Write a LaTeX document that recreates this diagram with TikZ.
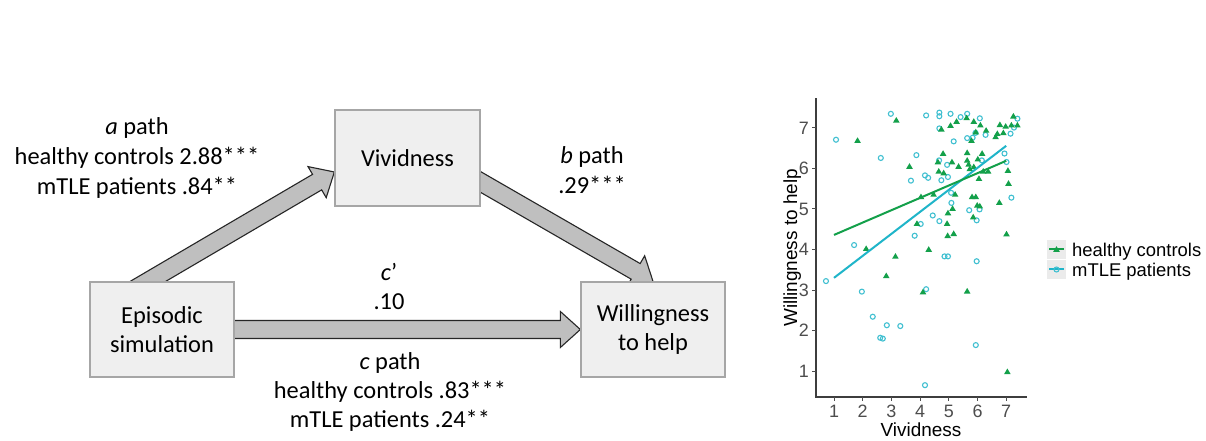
\documentclass[tikz,border=0pt]{standalone}
\usepackage{fontspec}
\setmainfont{Carlito}
\newfontfamily\plotfont{Liberation Sans}
\usetikzlibrary{calc}
\pgfdeclarelayer{paper}
\pgfdeclarelayer{arrowlayer}
\pgfsetlayers{paper,arrowlayer,main}
\definecolor{boxfill}{HTML}{EFEFEF}
\definecolor{boxline}{HTML}{A6A6A6}
\definecolor{arrfill}{HTML}{BFBFBF}
\definecolor{arrline}{HTML}{262626}
\definecolor{hcgreen}{HTML}{13A04A}
\definecolor{mtcyan}{HTML}{1FB5C9}
\definecolor{axisgray}{HTML}{4D4D4D}
\definecolor{keybg}{HTML}{EBEBEB}
\newcommand\blockarrow[2]{%
  \path ($(#1)!-15bp!(#2)$) coordinate (st) ($(#2)!20bp!(#1)$) coordinate (hb);
  \draw[arrowshape] ($(st)!9bp!90:(#2)$) -- ($(hb)!9bp!90:(#2)$) -- ($(hb)!18bp!90:(#2)$) -- (#2)
    -- ($(hb)!18bp!-90:(#2)$) -- ($(hb)!9bp!-90:(#2)$) -- ($(st)!9bp!-90:(#2)$) -- cycle;}
\begin{document}
\begin{tikzpicture}[x=1bp,y=-1bp,
  box/.style={draw=boxline, line width=1.3bp, fill=boxfill, minimum width=144bp, minimum height=95bp,
    inner sep=0pt, align=center, font=\fontsize{24.5}{29}\selectfont},
  lbl/.style={font=\fontsize{24.5}{29}\selectfont, inner sep=0pt, anchor=base},
  arrowshape/.style={fill=arrfill, draw=arrline, line width=1.1bp, line join=miter},
  tick/.style={axisgray, line width=1bp},
  ticklbl/.style={font=\plotfont\fontsize{18}{18}\selectfont, text=axisgray, inner sep=0pt},
  axtitle/.style={font=\plotfont\fontsize{19}{19}\selectfont, inner sep=0pt},
  legtext/.style={font=\plotfont\fontsize{18.5}{18.5}\selectfont, inner sep=0pt},
  axline/.style={draw=axisgray!80!black, line width=1.4bp},
  regline/.style={line width=2bp},
]
\useasboundingbox (0,0) rectangle (1206,441);
\begin{pgfonlayer}{paper}
  \fill[white] (0,0) rectangle (1206,441);
\end{pgfonlayer}

% ---------- mediation diagram ----------
\node[box] (epi) at (162,329.5) {Episodic\\simulation};
\node[box, minimum width=145bp, minimum height=96bp] (viv) at (407.5,158) {Vividness};
\node[box] (wil) at (653,329.5) {Willingness\\to help};

\coordinate (aS) at ($(epi.north)+(-14,0)$);
\coordinate (aT) at ($(viv.west)+(0,14)$);
\coordinate (bS) at ($(viv.east)+(0,24)$);
\begin{pgfonlayer}{arrowlayer}
  \blockarrow{aS}{aT}
  \blockarrow{bS}{wil.north}
  \blockarrow{epi.east}{wil.west}
\end{pgfonlayer}

\node[lbl] (apath) at (137,135) {\textit{a} path};
\node[lbl] (ahc) at (137,165) {healthy controls 2.88***};
\node[lbl] (apt) at (137,195) {mTLE patients .84**};

\node[lbl] (bpath) at (592,164) {\textit{b} path};
\node[lbl] (bval) at (592,194) {.29***};

\node[lbl] (cprime) at (389,281) {\textit{c}’};
\node[lbl] (cpval) at (389,310) {.10};

\node[lbl] (cpath) at (390,370) {\textit{c} path};
\node[lbl] (chc) at (390,399) {healthy controls .83***};
\node[lbl] (cpt) at (390,428) {mTLE patients .24**};

% ---------- scatter plot ----------
\begin{scope}[shift={(805.3bp,-411.5bp)}, x=28.7bp, y=40.5bp]
  \draw[axline] (0.37,7.74) -- (0.37,0.36) -- (7.72,0.36);
  \foreach \i in {1,...,7} {
    \draw[tick] (0.37,\i) -- ++(-4bp,0);
    \node[ticklbl, anchor=east] (yt\i) at ([xshift=-7bp]0.37,\i) {\i};
    \draw[tick] (\i,0.36) -- ++(0,-4bp);
    \node[ticklbl, anchor=base] (xt\i) at ([yshift=-21bp]\i,0.36) {\i};
  }
  \node[axtitle, anchor=base] (xtitle) at ([yshift=-40bp]4.03,0.36) {Vividness};
  \node[axtitle, rotate=90] (ytitle) at (-0.46,4.04) {Willingness to help};

  % mTLE patients (open circles)
  \foreach \x/\y in {0.72/3.22, 1.07/6.71, 1.70/4.11, 1.97/2.96, 2.35/2.34, 2.61/1.82, 2.70/1.80, 2.84/2.13,
    3.31/2.11, 2.63/6.26, 2.98/7.35, 3.68/5.70, 3.87/6.33, 3.81/4.34, 4.02/4.63, 4.21/7.31, 4.17/5.83,
    4.28/5.77, 4.21/3.02, 4.17/0.65, 4.44/4.84, 4.67/7.38, 4.67/7.29, 4.67/6.99, 4.66/6.20, 4.67/4.70,
    4.74/5.71, 4.85/3.83, 4.97/3.83, 4.97/5.79, 4.94/6.09, 5.06/7.35, 5.09/5.15, 5.17/6.67, 5.41/7.27,
    5.64/7.35, 5.64/6.75, 5.71/4.97, 5.83/6.76, 5.97/4.72, 5.97/3.71, 5.94/1.64, 6.07/4.99, 6.08/7.24,
    6.15/6.20, 6.28/6.83, 6.94/6.37, 7.01/6.16, 7.15/6.86, 7.18/5.28, 7.39/7.23, 7.27/7.01, 5.93/6.88,
    5.08/5.40}
    \draw[mtcyan!85!white, line width=1.1bp] (\x,\y) circle[radius=2.5bp];

  % healthy controls (filled triangles)
  \foreach \x/\y in {1.82/6.69, 2.12/4.02, 2.82/3.35, 3.14/3.83, 3.17/7.19, 3.63/6.05, 3.89/4.64, 4.03/5.30,
    4.10/2.95, 4.30/4.00, 4.47/5.36, 4.62/6.16, 4.65/5.93, 4.74/6.97, 4.80/6.37, 4.82/5.89, 4.94/4.64,
    4.96/4.34, 4.97/4.90, 5.06/7.06, 5.11/6.16, 5.13/5.01, 5.17/4.39, 5.22/5.36, 5.27/7.16, 5.34/6.05,
    5.62/7.25, 5.64/6.39, 5.64/2.97, 5.69/6.10, 5.73/5.99, 5.79/6.69, 5.81/5.30, 5.85/4.80, 5.87/7.16,
    5.94/6.90, 5.94/5.30, 5.99/5.09, 6.01/6.23, 6.05/5.75, 6.08/5.07, 6.10/7.07, 6.16/6.37, 6.20/5.93,
    6.30/6.94, 6.37/5.93, 6.76/5.16, 6.63/6.78, 6.78/7.08, 6.90/6.88, 6.98/7.04, 7.06/5.95, 7.08/5.63,
    7.01/4.38, 7.04/0.98, 7.25/7.29, 7.39/7.07, 7.18/7.07, 6.69/6.86, 5.64/6.20, 5.87/6.04}
    \fill[hcgreen] (\x,\y) ++(0,3.3bp) -- ++(-3.3bp,-5.6bp) -- ++(6.6bp,0) -- cycle;

  \draw[regline, mtcyan] (1,3.30) -- (7,6.56);
  \draw[regline, hcgreen] (1,4.36) -- (7,6.19);
\end{scope}

% ---------- legend ----------
\fill[keybg] (1047,240) rectangle (1066,259);
\fill[keybg] (1047,260) rectangle (1066,279);
\draw[hcgreen, line width=2bp] (1049,249.5) -- (1064,249.5);
\fill[hcgreen] (1056.5,249.5) ++(0,-3.3) -- ++(-3.3,5.6) -- ++(6.6,0) -- cycle;
\draw[mtcyan, line width=2bp] (1049,269.5) -- (1064,269.5);
\draw[mtcyan!85!white, line width=1.1bp] (1056.5,269.5) circle[radius=2.5bp];
\node[legtext, anchor=base west] (leghc) at (1072,257) {healthy controls};
\node[legtext, anchor=base west] (legmt) at (1072,277) {mTLE patients};
\end{tikzpicture}
\end{document}
